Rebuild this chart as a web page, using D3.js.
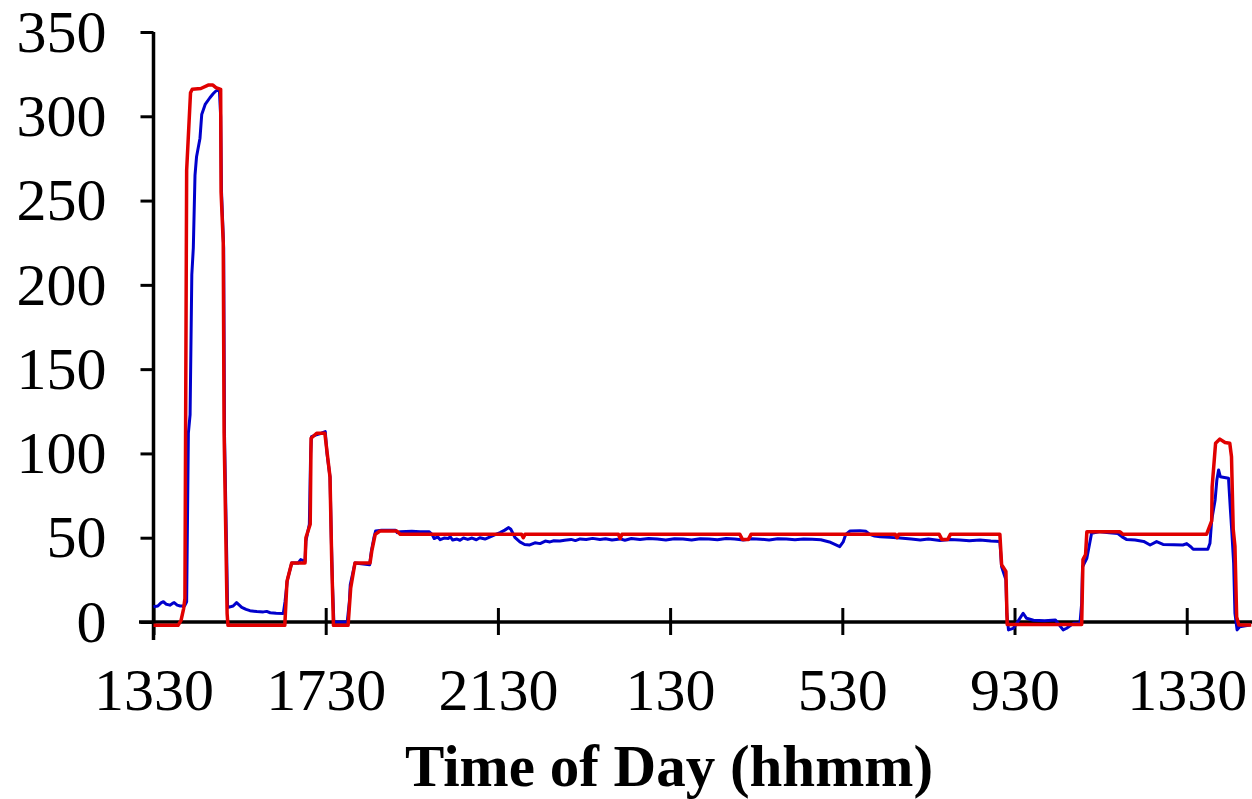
<!DOCTYPE html>
<html>
<head>
<meta charset="utf-8">
<script src="https://cdn.jsdelivr.net/npm/d3@7"></script>
<style>
  html, body { margin: 0; padding: 0; background: #fff; }
  svg { display: block; }
</style>
</head>
<body>
<svg id="chart" width="1252" height="799"></svg>
<script>
// Time is hours elapsed since 13:30 on the first day.
const tickHours = [0, 4, 8, 12, 16, 20, 24];
const tickLabels = ["1330", "1730", "2130", "130", "530", "930", "1330"];
const yTicks = [0, 50, 100, 150, 200, 250, 300, 350];

// Red series (setpoint-like trace)
const redHours = [
  0.00, 0.57, 0.64, 0.70, 0.73, 0.77, 0.86, 0.90, 1.10, 1.27, 1.38, 1.45, 1.56, 1.57, 1.62, 1.64, 1.71, 1.73,
  3.05, 3.10, 3.21, 3.52, 3.54, 3.64, 3.66, 3.79, 3.98, 4.10, 4.14, 4.18,
  4.52, 4.58, 4.68, 5.03, 5.07, 5.15, 5.26, 5.65, 5.73,
  8.55, 8.59, 8.63, 10.80, 10.84, 10.88, 13.62, 13.68, 13.82, 13.88,
  17.23, 17.27, 17.31, 18.25, 18.31, 18.45, 18.51,
  19.66, 19.70, 19.80, 19.83, 21.56, 21.59, 21.65, 21.68, 22.45, 22.52,
  24.46, 24.58, 24.59, 24.67, 24.77, 24.89, 25.00, 25.04, 25.08, 25.12, 25.16, 25.21, 25.50
];
const redValues = [
  -2, -2, 1, 8, 14, 268, 314, 316, 316.5, 318.5, 318.5, 317, 316, 255, 225, 112, 5, -2,
  -2, 24, 35, 35, 50, 58, 109, 112, 112, 86, 36, -2,
  -2, 20, 35, 35, 42, 52, 54, 54, 52,
  52, 50, 52, 52, 49.5, 52, 52, 49, 49, 52,
  52, 50, 52, 52, 49, 49, 52,
  52, 34, 30, -1.5, -1.5, 37, 40, 53.5, 53.5, 52,
  52, 60, 80, 106, 108.5, 106.5, 106, 98, 55, 45, 3, -1.8, -1.8
];

// Blue series (measured trace)
const blueHours = [
  0.00, 0.10, 0.18, 0.23, 0.30, 0.38, 0.44, 0.48, 0.55, 0.62, 0.72, 0.77,
  0.81, 0.85, 0.89, 0.925, 0.964, 1.00, 1.08, 1.12, 1.20, 1.31, 1.39, 1.45, 1.53,
  1.56, 1.58, 1.63, 1.65, 1.70, 1.72, 1.74, 1.85, 1.93, 2.05, 2.15, 2.24, 2.40, 2.55, 2.63, 2.71, 2.85, 3.015,
  3.055, 3.11, 3.21, 3.36, 3.42, 3.52, 3.54, 3.62, 3.65, 3.67, 3.78, 3.90, 3.99, 4.03, 4.10, 4.13, 4.16, 4.19,
  4.50, 4.55, 4.57, 4.68, 5.02, 5.06, 5.12, 5.16, 5.30, 5.62,
  5.66, 5.73, 6.00, 6.19, 6.40, 6.47, 6.52, 6.60, 6.66, 6.75, 6.85, 6.89, 6.95, 7.05, 7.12, 7.20, 7.30, 7.40,
  7.50, 7.58, 7.70, 7.82, 7.95, 8.05, 8.16, 8.25, 8.30, 8.40, 8.51, 8.62, 8.74, 8.86, 8.98, 9.10, 9.21, 9.30,
  9.44, 9.55, 9.70, 9.80, 9.91, 10.05, 10.20, 10.37, 10.50, 10.65, 10.84, 10.95, 11.10, 11.30, 11.50, 11.70,
  11.90, 12.10, 12.30, 12.50, 12.70, 12.90, 13.10, 13.30, 13.50, 13.70, 13.90, 14.10, 14.30, 14.50, 14.70,
  14.90, 15.10, 15.30, 15.50, 15.70, 15.94, 16.02, 16.08, 16.18, 16.41, 16.55, 16.64, 16.75, 16.88, 17.10,
  17.34, 17.60, 17.81, 18.00, 18.27, 18.50, 18.73, 18.95, 19.20, 19.45, 19.66,
  19.70, 19.80, 19.82, 19.86, 19.97, 20.05, 20.20, 20.28, 20.44, 20.70, 20.95, 21.13, 21.21, 21.37, 21.52,
  21.56, 21.58, 21.68, 21.79, 21.99, 22.20, 22.40, 22.50, 22.60, 22.80, 23.00, 23.15, 23.30, 23.45, 23.70,
  23.91, 24.00, 24.10, 24.15, 24.49, 24.54, 24.58, 24.66, 24.70, 24.74, 24.78, 24.97, 25.01, 25.05, 25.09,
  25.12, 25.17, 25.23, 25.47
];
const blueValues = [
  9, 9.5, 11.5, 12, 10.5, 10, 11, 11.5, 10, 9.5, 9.5, 12,
  112, 123, 206, 222, 265, 276, 287, 301, 307, 311, 313.5, 315, 316,
  300, 255, 222, 110, 40, 10, 8.7, 9.5, 11.5, 8.7, 7.5, 6.7, 6.2, 6.0, 6.3, 5.5, 5.2, 5.1,
  12, 25, 35, 35, 37, 36, 48, 58, 100, 110, 111, 112, 113, 100, 86, 50, 20, 0,
  0, 12, 22, 35, 34, 42, 50, 54, 54.5, 54.5,
  53, 53.6, 53.8, 53.6, 53.6, 52, 49.5, 50.5, 48.8, 49.8, 49.5, 50.6, 48.6, 49.2, 48.5, 49.8, 49.0, 49.8,
  48.8, 50.0, 49.2, 50.5, 52, 53, 54.5, 56, 55, 50, 47.5, 46, 45.7, 47, 46.5, 48, 47.5, 48.2,
  48, 48.5, 49, 48.3, 49.3, 49, 49.6, 49, 49.4, 48.7, 49.3, 48.5, 49.5, 49, 49.6, 49.2,
  48.7, 49.4, 49.3, 48.6, 49.4, 49.2, 48.8, 49.5, 49.2, 48.6, 49.4, 49.1, 48.7, 49.4, 49.2,
  48.8, 49.3, 49.1, 48.8, 47.5, 44.7, 47.5, 52, 54, 54.2, 53.8, 52, 51, 50.5, 50.2,
  49.8, 49.2, 48.6, 49.2, 48.4, 48.9, 48.7, 48.2, 48.6, 48, 47.7,
  32.8, 25, 5.2, -4.7, -3.8, -0.8, 5.2, 2.2, 1, 0.8, 1.2, -4.7, -3.7, -0.8, -0.8,
  11, 32.8, 37.8, 52.6, 53.6, 53, 52.5, 50.5, 49, 48.6, 47.8, 45.7, 47.7, 46, 45.8,
  45.7, 46.5, 44.5, 43.1, 43.1, 46.7, 60.5, 72.4, 84.3, 90.2, 86.2, 85.3, 68.4, 52.6, 34.8,
  5.2, -4.7, -2.8, -1.8
];

const redData = redHours.map((t, i) => ({ t, v: redValues[i] }));
const blueData = blueHours.map((t, i) => ({ t, v: blueValues[i] }));

const svg = d3.select("#chart");
const fontFamily = "'Liberation Serif', 'Times New Roman', Times, serif";

const x = d3.scaleLinear().domain([0, 25.5]).range([153.5, 1251.3]);
const y = d3.scaleLinear().domain([0, 350]).range([622, 32]);

// Y axis: ticks pointing left, numbers on the left
const yAxis = svg.append("g")
  .attr("transform", `translate(${x(0)},0)`)
  .call(d3.axisLeft(y).tickValues(yTicks).tickSize(13).tickSizeOuter(0).tickPadding(34));
yAxis.select(".domain").remove();
yAxis.selectAll(".tick line").attr("stroke", "#000").attr("stroke-width", 3);
yAxis.selectAll(".tick text")
  .attr("font-family", fontFamily)
  .attr("font-size", 60)
  .attr("fill", "#000");

// X axis: ticks crossing the axis line
const xAxis = svg.append("g")
  .attr("transform", `translate(0,${y(0)})`)
  .call(d3.axisBottom(x).tickValues(tickHours).tickFormat((d, i) => tickLabels[i]).tickSizeOuter(0));
xAxis.select(".domain").remove();
xAxis.selectAll(".tick line")
  .attr("y1", -14).attr("y2", 13)
  .attr("stroke", "#000").attr("stroke-width", 3);
xAxis.selectAll(".tick text")
  .attr("y", 88).attr("dy", 0)
  .attr("font-family", fontFamily)
  .attr("font-size", 60)
  .attr("fill", "#000");

// Axis lines
svg.append("line")
  .attr("x1", 139).attr("x2", 1252)
  .attr("y1", y(0)).attr("y2", y(0))
  .attr("stroke", "#000").attr("stroke-width", 3.5);
svg.append("line")
  .attr("x1", x(0)).attr("x2", x(0))
  .attr("y1", y(350)).attr("y2", 640)
  .attr("stroke", "#000").attr("stroke-width", 3.5);

const line = d3.line().x(d => x(d.t)).y(d => y(d.v));

svg.append("path")
  .datum(blueData)
  .attr("d", line)
  .attr("fill", "none")
  .attr("stroke", "#0000cc")
  .attr("stroke-width", 3)
  .attr("stroke-linejoin", "round");

svg.append("path")
  .datum(redData)
  .attr("d", line)
  .attr("fill", "none")
  .attr("stroke", "#e00000")
  .attr("stroke-width", 3.5)
  .attr("stroke-linejoin", "round");

// Axis title
svg.append("text")
  .attr("x", 669)
  .attr("y", 786)
  .attr("text-anchor", "middle")
  .attr("font-family", fontFamily)
  .attr("font-size", 59)
  .attr("font-weight", "bold")
  .attr("fill", "#000")
  .text("Time of Day (hhmm)");
</script>
</body>
</html>
